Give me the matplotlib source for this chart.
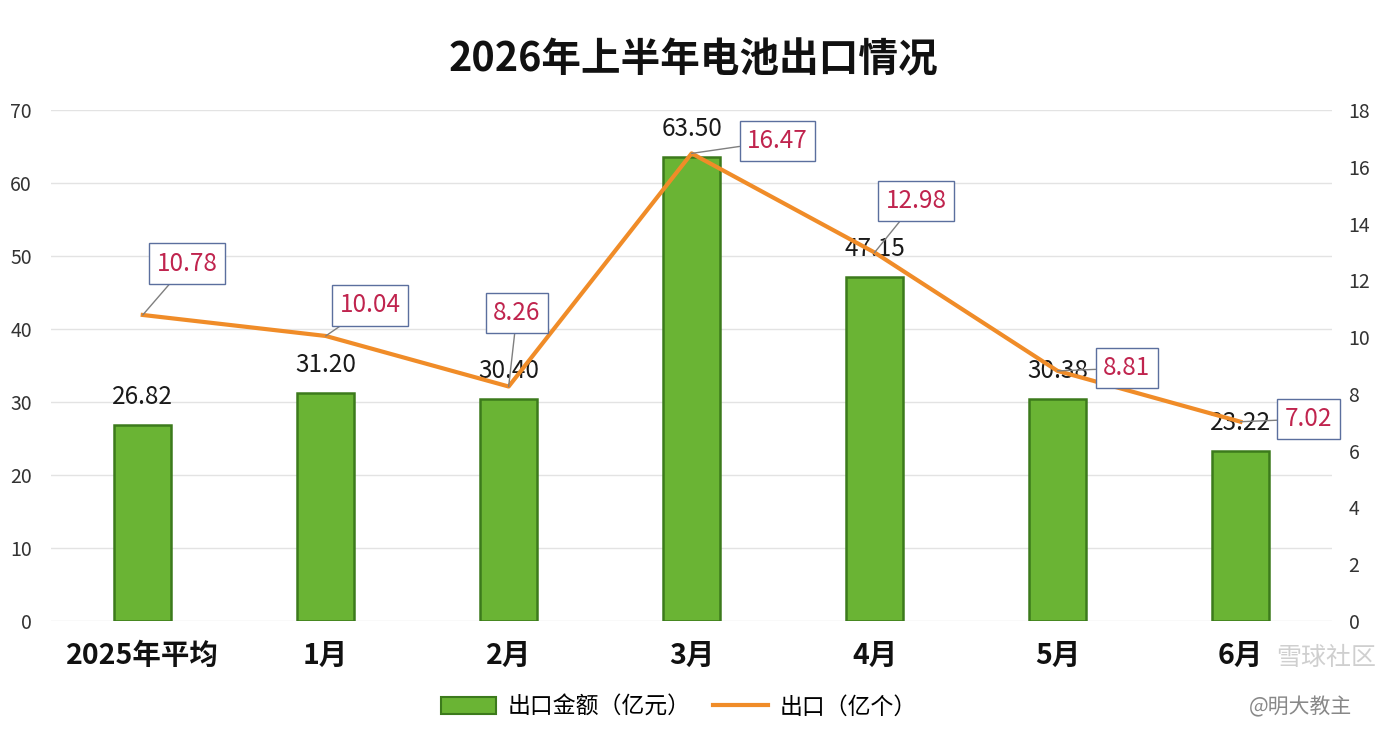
import matplotlib
matplotlib.use("Agg")
import matplotlib.pyplot as plt
from matplotlib.patches import Patch
from matplotlib.lines import Line2D

plt.rcParams['font.family'] = ['Noto Sans CJK SC', 'DejaVu Sans']

# chart data
months = ['2025年平均', '1月', '2月', '3月', '4月', '5月', '6月']
amount = [26.82, 31.20, 30.40, 63.50, 47.15, 30.38, 23.22]   # 出口金额（亿元）
count = [10.78, 10.04, 8.26, 16.47, 12.98, 8.81, 7.02]      # 出口（亿个）

# label box offsets (points) for the line labels
box_offsets = [(32, 37), (32, 22), (6, 53), (62, 9), (30, 37), (50, 2), (49, 2)]

bar_green = '#6AB434'
bar_edge = '#3C7A1C'
line_orange = '#F08C28'
label_red = '#C0244E'

fig = plt.figure(figsize=(13.86, 7.38), dpi=100)
ax = fig.add_axes([0.037, 0.1585, 0.924, 0.6925])
ax2 = ax.twinx()

x = list(range(len(months)))
ax.bar(x, amount, width=0.31, color=bar_green, edgecolor=bar_edge, linewidth=1.8, zorder=2)
ax.set_xlim(-0.5, 6.5)
ax.set_ylim(0, 70)
ax.set_yticks(range(0, 71, 10))
ax.grid(axis='y', color='#E3E3E3', linewidth=1, zorder=0)
ax.set_axisbelow(True)

for i, v in enumerate(amount):
    ax.annotate('%.2f' % v, (i, v), xytext=(0, 11), textcoords='offset points',
                ha='center', va='bottom', fontsize=17.5, color='#1A1A1A', zorder=5)

ax2.plot(x, count, color=line_orange, linewidth=3, zorder=3)
ax2.set_ylim(0, 18)
ax2.set_yticks(range(0, 19, 2))

for i, v in enumerate(count):
    ax2.annotate('%.2f' % v, (i, v), xytext=box_offsets[i], textcoords='offset points',
                 ha='center', va='center', fontsize=17.5, color=label_red,
                 bbox=dict(boxstyle='square,pad=0.3', fc='white', ec='#5B6F9E', lw=1),
                 arrowprops=dict(arrowstyle='-', color='#7F7F7F', lw=1,
                                 shrinkA=0, shrinkB=0),
                 zorder=6)

for a in (ax, ax2):
    for s in a.spines.values():
        s.set_visible(False)
    a.tick_params(length=0, labelsize=14, colors='#333333')
ax.tick_params(axis='y', pad=14)
ax2.tick_params(axis='y', pad=12)

ax.set_xticks(x)
ax.set_xticklabels(months, fontsize=20.5, fontweight='bold', color='#111111')
ax.tick_params(axis='x', pad=15)

fig.text(0.5, 0.919, '2026年上半年电池出口情况', ha='center', va='center',
         fontsize=28.5, fontweight='bold', color='#111111')

handles = [Patch(facecolor=bar_green, edgecolor=bar_edge, linewidth=1.5),
           Line2D([0], [0], color=line_orange, linewidth=3)]
fig.legend(handles, ['出口金额（亿元）', '出口（亿个）'], loc='center',
           bbox_to_anchor=(0.49, 0.042), ncol=2, frameon=False, fontsize=16.5,
           handlelength=2.4, columnspacing=1.0, handletextpad=0.5)

# watermarks
fig.text(0.957, 0.108, '雪球社区', ha='center', va='center', fontsize=18,
         color='#C4C4C4', alpha=0.8)
fig.text(0.938, 0.042, '@明大教主', ha='center', va='center', fontsize=15,
         color='#888888')

fig.savefig('out.png', dpi=100)
